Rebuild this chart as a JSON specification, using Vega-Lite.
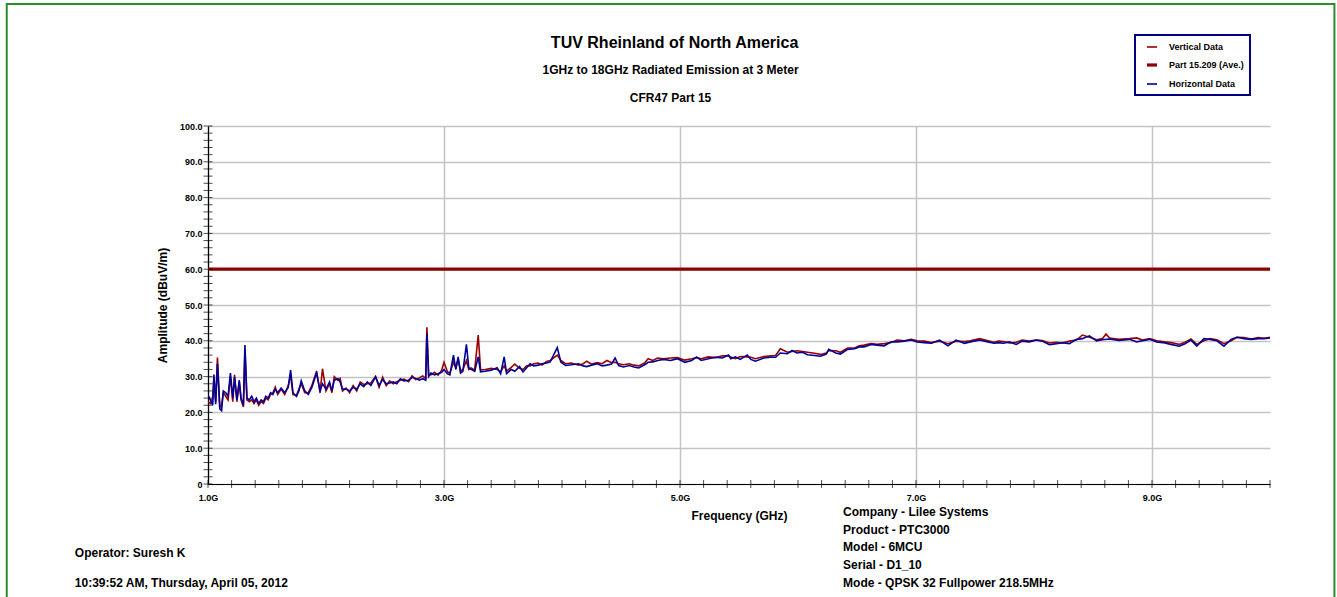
{
"$schema": "https://vega.github.io/schema/vega-lite/v6.json",
"width": 1062, "height": 358,
"autosize": {"type": "none"},
"padding": {"left": 208, "top": 126, "right": 67, "bottom": 113},
"background": "white",
"config": {"font": "Liberation Sans", "view": {"stroke": null},
 "axisY": {"tickCount": 12, "labelOverlap": false, "labelFlush": false},
 "axisX": {"labelOverlap": false, "labelFlush": false},
 "legend": {"strokeColor": "#000080", "strokeWidth": 2, "fillColor": "white", "padding": 6, "symbolOffset": 4, "symbolType": "stroke", "symbolSize": 100, "labelOffset": 10, "rowPadding": 6, "labelFont": "Liberation Sans", "labelFontSize": 9, "labelFontWeight": "bold", "labelColor": "black"}},
"datasets": {
"emission": [
{"series":"L","freq":1.0,"amp":60},{"series":"L","freq":10.0,"amp":60},
{"series":"V","freq":1.00,"amp":23.0},{"series":"V","freq":1.02,"amp":22.5},{"series":"V","freq":1.04,"amp":24.0},{"series":"V","freq":1.05,"amp":29.5},{"series":"V","freq":1.065,"amp":23.0},{"series":"V","freq":1.08,"amp":35.3},{"series":"V","freq":1.10,"amp":21.5},{"series":"V","freq":1.115,"amp":22.0},{"series":"V","freq":1.13,"amp":25.5},{"series":"V","freq":1.15,"amp":24.5},{"series":"V","freq":1.17,"amp":23.5},{"series":"V","freq":1.19,"amp":30.0},{"series":"V","freq":1.21,"amp":23.0},{"series":"V","freq":1.225,"amp":30.5},{"series":"V","freq":1.245,"amp":23.0},{"series":"V","freq":1.265,"amp":28.5},{"series":"V","freq":1.28,"amp":23.5},{"series":"V","freq":1.30,"amp":21.5},{"series":"V","freq":1.313,"amp":37.5},{"series":"V","freq":1.33,"amp":23.5},{"series":"V","freq":1.35,"amp":23.0},{"series":"V","freq":1.37,"amp":23.5},{"series":"V","freq":1.39,"amp":22.5},{"series":"V","freq":1.41,"amp":23.5},{"series":"V","freq":1.43,"amp":22.0},{"series":"V","freq":1.45,"amp":23.0},{"series":"V","freq":1.47,"amp":22.5},{"series":"V","freq":1.49,"amp":24.0},{"series":"V","freq":1.51,"amp":23.5},{"series":"V","freq":1.53,"amp":25.0},{"series":"V","freq":1.55,"amp":25.5},{"series":"V","freq":1.57,"amp":27.0},{"series":"V","freq":1.59,"amp":25.0},{"series":"V","freq":1.62,"amp":26.5},{"series":"V","freq":1.65,"amp":25.0},{"series":"V","freq":1.68,"amp":27.5},{"series":"V","freq":1.70,"amp":30.5},{"series":"V","freq":1.72,"amp":25.0},{"series":"V","freq":1.75,"amp":24.8},{"series":"V","freq":1.77,"amp":26.5},{"series":"V","freq":1.79,"amp":28.0},{"series":"V","freq":1.82,"amp":25.5},{"series":"V","freq":1.85,"amp":25.5},{"series":"V","freq":1.88,"amp":27.5},{"series":"V","freq":1.92,"amp":31.5},{"series":"V","freq":1.95,"amp":25.5},{"series":"V","freq":1.97,"amp":32.2},{"series":"V","freq":2.00,"amp":26.0},{"series":"V","freq":2.03,"amp":28.0},{"series":"V","freq":2.05,"amp":25.5},{"series":"V","freq":2.07,"amp":30.0},{"series":"V","freq":2.10,"amp":29.0},{"series":"V","freq":2.12,"amp":29.5},{"series":"V","freq":2.14,"amp":26.0},{"series":"V","freq":2.17,"amp":26.8},{"series":"V","freq":2.20,"amp":25.5},{"series":"V","freq":2.23,"amp":27.5},{"series":"V","freq":2.26,"amp":26.0},{"series":"V","freq":2.29,"amp":28.5},{"series":"V","freq":2.32,"amp":27.8},{"series":"V","freq":2.35,"amp":28.0},{"series":"V","freq":2.38,"amp":28.2},{"series":"V","freq":2.42,"amp":30.0},{"series":"V","freq":2.45,"amp":27.0},{"series":"V","freq":2.48,"amp":29.8},{"series":"V","freq":2.51,"amp":27.5},{"series":"V","freq":2.54,"amp":28.8},{"series":"V","freq":2.57,"amp":28.0},{"series":"V","freq":2.60,"amp":28.6},{"series":"V","freq":2.63,"amp":29.0},{"series":"V","freq":2.66,"amp":29.3},{"series":"V","freq":2.70,"amp":28.6},{"series":"V","freq":2.73,"amp":30.2},{"series":"V","freq":2.76,"amp":29.2},{"series":"V","freq":2.79,"amp":29.6},{"series":"V","freq":2.82,"amp":30.2},{"series":"V","freq":2.845,"amp":29.5},{"series":"V","freq":2.855,"amp":43.8},{"series":"V","freq":2.87,"amp":30.5},{"series":"V","freq":2.89,"amp":30.5},{"series":"V","freq":2.92,"amp":31.2},{"series":"V","freq":2.95,"amp":30.4},{"series":"V","freq":2.98,"amp":31.8},{"series":"V","freq":3.00,"amp":34.0},{"series":"V","freq":3.03,"amp":31.3},{"series":"V","freq":3.05,"amp":31.0},{"series":"V","freq":3.08,"amp":34.0},{"series":"V","freq":3.10,"amp":32.5},{"series":"V","freq":3.12,"amp":34.8},{"series":"V","freq":3.14,"amp":31.6},{"series":"V","freq":3.16,"amp":32.0},{"series":"V","freq":3.19,"amp":34.5},{"series":"V","freq":3.21,"amp":32.0},{"series":"V","freq":3.23,"amp":32.4},{"series":"V","freq":3.26,"amp":31.8},{"series":"V","freq":3.29,"amp":41.6},{"series":"V","freq":3.31,"amp":31.8},{"series":"V","freq":3.35,"amp":32.0},{"series":"V","freq":3.40,"amp":32.3},{"series":"V","freq":3.45,"amp":32.0},{"series":"V","freq":3.48,"amp":31.4},{"series":"V","freq":3.51,"amp":33.0},{"series":"V","freq":3.53,"amp":31.5},{"series":"V","freq":3.57,"amp":32.6},{"series":"V","freq":3.60,"amp":33.5},{"series":"V","freq":3.64,"amp":32.3},{"series":"V","freq":3.67,"amp":32.0},{"series":"V","freq":3.70,"amp":33.0},{"series":"V","freq":3.73,"amp":33.0},{"series":"V","freq":3.76,"amp":33.6},{"series":"V","freq":3.80,"amp":33.8},{"series":"V","freq":3.83,"amp":33.2},{"series":"V","freq":3.87,"amp":34.2},{"series":"V","freq":3.90,"amp":34.5},{"series":"V","freq":3.96,"amp":36.0},{"series":"V","freq":3.99,"amp":34.5},{"series":"V","freq":4.03,"amp":33.6},{"series":"V","freq":4.08,"amp":33.8},{"series":"V","freq":4.14,"amp":33.2},{"series":"V","freq":4.18,"amp":33.6},{"series":"V","freq":4.21,"amp":34.3},{"series":"V","freq":4.25,"amp":33.5},{"series":"V","freq":4.30,"amp":33.9},{"series":"V","freq":4.34,"amp":33.6},{"series":"V","freq":4.38,"amp":34.5},{"series":"V","freq":4.42,"amp":33.9},{"series":"V","freq":4.45,"amp":34.0},{"series":"V","freq":4.48,"amp":33.6},{"series":"V","freq":4.52,"amp":33.3},{"series":"V","freq":4.57,"amp":33.6},{"series":"V","freq":4.61,"amp":33.2},{"series":"V","freq":4.65,"amp":33.0},{"series":"V","freq":4.70,"amp":33.8},{"series":"V","freq":4.73,"amp":35.0},{"series":"V","freq":4.77,"amp":34.5},{"series":"V","freq":4.81,"amp":35.2},{"series":"V","freq":4.86,"amp":35.0},{"series":"V","freq":4.92,"amp":35.2},{"series":"V","freq":4.98,"amp":35.3},{"series":"V","freq":5.04,"amp":34.6},{"series":"V","freq":5.10,"amp":35.0},{"series":"V","freq":5.14,"amp":35.3},{"series":"V","freq":5.18,"amp":35.0},{"series":"V","freq":5.24,"amp":35.5},{"series":"V","freq":5.30,"amp":35.3},{"series":"V","freq":5.36,"amp":35.8},{"series":"V","freq":5.41,"amp":35.8},{"series":"V","freq":5.43,"amp":35.5},{"series":"V","freq":5.47,"amp":35.0},{"series":"V","freq":5.51,"amp":35.6},{"series":"V","freq":5.57,"amp":35.5},{"series":"V","freq":5.60,"amp":35.4},{"series":"V","freq":5.64,"amp":35.0},{"series":"V","freq":5.71,"amp":35.6},{"series":"V","freq":5.77,"amp":35.8},{"series":"V","freq":5.81,"amp":35.9},{"series":"V","freq":5.85,"amp":37.8},{"series":"V","freq":5.91,"amp":36.8},{"series":"V","freq":5.95,"amp":37.0},{"series":"V","freq":5.99,"amp":37.2},{"series":"V","freq":6.04,"amp":37.0},{"series":"V","freq":6.08,"amp":36.8},{"series":"V","freq":6.14,"amp":36.5},{"series":"V","freq":6.19,"amp":36.2},{"series":"V","freq":6.24,"amp":36.6},{"series":"V","freq":6.26,"amp":37.3},{"series":"V","freq":6.32,"amp":37.2},{"series":"V","freq":6.36,"amp":36.8},{"series":"V","freq":6.42,"amp":38.0},{"series":"V","freq":6.48,"amp":38.0},{"series":"V","freq":6.52,"amp":38.6},{"series":"V","freq":6.56,"amp":38.8},{"series":"V","freq":6.62,"amp":39.2},{"series":"V","freq":6.67,"amp":39.0},{"series":"V","freq":6.73,"amp":39.2},{"series":"V","freq":6.79,"amp":39.5},{"series":"V","freq":6.84,"amp":40.2},{"series":"V","freq":6.90,"amp":40.0},{"series":"V","freq":6.96,"amp":40.4},{"series":"V","freq":7.01,"amp":40.0},{"series":"V","freq":7.07,"amp":39.9},{"series":"V","freq":7.13,"amp":39.5},{"series":"V","freq":7.20,"amp":39.9},{"series":"V","freq":7.27,"amp":39.2},{"series":"V","freq":7.34,"amp":39.9},{"series":"V","freq":7.41,"amp":39.8},{"series":"V","freq":7.46,"amp":40.0},{"series":"V","freq":7.54,"amp":40.6},{"series":"V","freq":7.61,"amp":40.0},{"series":"V","freq":7.66,"amp":39.6},{"series":"V","freq":7.70,"amp":39.9},{"series":"V","freq":7.74,"amp":39.8},{"series":"V","freq":7.79,"amp":39.4},{"series":"V","freq":7.85,"amp":39.6},{"series":"V","freq":7.90,"amp":40.2},{"series":"V","freq":7.96,"amp":39.9},{"series":"V","freq":8.02,"amp":40.2},{"series":"V","freq":8.07,"amp":40.1},{"series":"V","freq":8.13,"amp":39.4},{"series":"V","freq":8.19,"amp":39.6},{"series":"V","freq":8.24,"amp":39.4},{"series":"V","freq":8.30,"amp":39.9},{"series":"V","freq":8.36,"amp":40.2},{"series":"V","freq":8.41,"amp":41.6},{"series":"V","freq":8.47,"amp":41.0},{"series":"V","freq":8.53,"amp":40.3},{"series":"V","freq":8.58,"amp":40.6},{"series":"V","freq":8.61,"amp":41.9},{"series":"V","freq":8.64,"amp":40.8},{"series":"V","freq":8.72,"amp":40.4},{"series":"V","freq":8.81,"amp":40.6},{"series":"V","freq":8.87,"amp":40.8},{"series":"V","freq":8.92,"amp":40.2},{"series":"V","freq":8.98,"amp":40.6},{"series":"V","freq":9.04,"amp":40.0},{"series":"V","freq":9.09,"amp":39.8},{"series":"V","freq":9.16,"amp":39.5},{"series":"V","freq":9.23,"amp":39.0},{"series":"V","freq":9.28,"amp":39.6},{"series":"V","freq":9.33,"amp":40.5},{"series":"V","freq":9.38,"amp":39.0},{"series":"V","freq":9.44,"amp":40.0},{"series":"V","freq":9.49,"amp":40.6},{"series":"V","freq":9.55,"amp":40.3},{"series":"V","freq":9.61,"amp":39.2},{"series":"V","freq":9.67,"amp":40.0},{"series":"V","freq":9.72,"amp":41.0},{"series":"V","freq":9.78,"amp":40.9},{"series":"V","freq":9.84,"amp":40.5},{"series":"V","freq":9.90,"amp":40.9},{"series":"V","freq":9.95,"amp":40.7},{"series":"V","freq":10.00,"amp":41.0},
{"series":"H","freq":1.00,"amp":24.8},{"series":"H","freq":1.02,"amp":23.5},{"series":"H","freq":1.04,"amp":22.0},{"series":"H","freq":1.05,"amp":30.6},{"series":"H","freq":1.065,"amp":22.3},{"series":"H","freq":1.08,"amp":33.6},{"series":"H","freq":1.10,"amp":21.0},{"series":"H","freq":1.115,"amp":20.5},{"series":"H","freq":1.13,"amp":26.0},{"series":"H","freq":1.15,"amp":25.5},{"series":"H","freq":1.17,"amp":24.5},{"series":"H","freq":1.19,"amp":31.0},{"series":"H","freq":1.21,"amp":24.0},{"series":"H","freq":1.225,"amp":29.8},{"series":"H","freq":1.245,"amp":23.5},{"series":"H","freq":1.265,"amp":29.0},{"series":"H","freq":1.28,"amp":24.0},{"series":"H","freq":1.30,"amp":22.0},{"series":"H","freq":1.313,"amp":38.8},{"series":"H","freq":1.33,"amp":24.0},{"series":"H","freq":1.35,"amp":23.5},{"series":"H","freq":1.37,"amp":24.5},{"series":"H","freq":1.39,"amp":23.0},{"series":"H","freq":1.41,"amp":24.0},{"series":"H","freq":1.43,"amp":22.5},{"series":"H","freq":1.45,"amp":23.5},{"series":"H","freq":1.47,"amp":23.0},{"series":"H","freq":1.49,"amp":24.5},{"series":"H","freq":1.51,"amp":24.0},{"series":"H","freq":1.53,"amp":25.5},{"series":"H","freq":1.55,"amp":25.0},{"series":"H","freq":1.57,"amp":26.5},{"series":"H","freq":1.59,"amp":25.5},{"series":"H","freq":1.62,"amp":26.8},{"series":"H","freq":1.65,"amp":25.5},{"series":"H","freq":1.68,"amp":27.0},{"series":"H","freq":1.70,"amp":31.8},{"series":"H","freq":1.72,"amp":25.5},{"series":"H","freq":1.75,"amp":24.5},{"series":"H","freq":1.77,"amp":26.0},{"series":"H","freq":1.79,"amp":28.8},{"series":"H","freq":1.82,"amp":26.0},{"series":"H","freq":1.85,"amp":25.0},{"series":"H","freq":1.88,"amp":27.0},{"series":"H","freq":1.92,"amp":31.0},{"series":"H","freq":1.95,"amp":26.0},{"series":"H","freq":1.97,"amp":28.0},{"series":"H","freq":2.00,"amp":26.5},{"series":"H","freq":2.03,"amp":28.5},{"series":"H","freq":2.05,"amp":26.0},{"series":"H","freq":2.07,"amp":29.0},{"series":"H","freq":2.10,"amp":29.4},{"series":"H","freq":2.12,"amp":28.5},{"series":"H","freq":2.14,"amp":26.5},{"series":"H","freq":2.17,"amp":26.5},{"series":"H","freq":2.20,"amp":26.0},{"series":"H","freq":2.23,"amp":27.0},{"series":"H","freq":2.26,"amp":26.5},{"series":"H","freq":2.29,"amp":28.0},{"series":"H","freq":2.32,"amp":27.2},{"series":"H","freq":2.35,"amp":28.5},{"series":"H","freq":2.38,"amp":27.5},{"series":"H","freq":2.42,"amp":29.9},{"series":"H","freq":2.45,"amp":27.5},{"series":"H","freq":2.48,"amp":29.2},{"series":"H","freq":2.51,"amp":28.0},{"series":"H","freq":2.54,"amp":28.2},{"series":"H","freq":2.57,"amp":28.5},{"series":"H","freq":2.60,"amp":28.0},{"series":"H","freq":2.63,"amp":29.4},{"series":"H","freq":2.66,"amp":28.8},{"series":"H","freq":2.70,"amp":29.0},{"series":"H","freq":2.73,"amp":29.8},{"series":"H","freq":2.76,"amp":29.5},{"series":"H","freq":2.79,"amp":29.0},{"series":"H","freq":2.82,"amp":29.4},{"series":"H","freq":2.845,"amp":29.0},{"series":"H","freq":2.855,"amp":42.0},{"series":"H","freq":2.87,"amp":30.0},{"series":"H","freq":2.89,"amp":31.0},{"series":"H","freq":2.92,"amp":30.5},{"series":"H","freq":2.95,"amp":30.8},{"series":"H","freq":2.98,"amp":31.2},{"series":"H","freq":3.00,"amp":32.0},{"series":"H","freq":3.03,"amp":30.8},{"series":"H","freq":3.05,"amp":30.5},{"series":"H","freq":3.08,"amp":36.0},{"series":"H","freq":3.10,"amp":32.0},{"series":"H","freq":3.12,"amp":35.5},{"series":"H","freq":3.14,"amp":31.0},{"series":"H","freq":3.16,"amp":31.5},{"series":"H","freq":3.19,"amp":39.0},{"series":"H","freq":3.21,"amp":32.5},{"series":"H","freq":3.23,"amp":32.0},{"series":"H","freq":3.26,"amp":31.5},{"series":"H","freq":3.29,"amp":35.5},{"series":"H","freq":3.31,"amp":31.3},{"series":"H","freq":3.35,"amp":31.5},{"series":"H","freq":3.40,"amp":31.8},{"series":"H","freq":3.45,"amp":32.5},{"series":"H","freq":3.48,"amp":30.8},{"series":"H","freq":3.51,"amp":35.5},{"series":"H","freq":3.53,"amp":30.8},{"series":"H","freq":3.57,"amp":32.0},{"series":"H","freq":3.60,"amp":31.5},{"series":"H","freq":3.64,"amp":32.8},{"series":"H","freq":3.67,"amp":31.3},{"series":"H","freq":3.70,"amp":32.5},{"series":"H","freq":3.73,"amp":33.6},{"series":"H","freq":3.76,"amp":33.0},{"series":"H","freq":3.80,"amp":33.2},{"series":"H","freq":3.83,"amp":33.6},{"series":"H","freq":3.87,"amp":33.8},{"series":"H","freq":3.90,"amp":34.1},{"series":"H","freq":3.96,"amp":38.1},{"series":"H","freq":3.99,"amp":34.1},{"series":"H","freq":4.03,"amp":33.1},{"series":"H","freq":4.08,"amp":33.3},{"series":"H","freq":4.14,"amp":33.6},{"series":"H","freq":4.18,"amp":33.0},{"series":"H","freq":4.21,"amp":32.8},{"series":"H","freq":4.25,"amp":33.2},{"series":"H","freq":4.30,"amp":33.6},{"series":"H","freq":4.34,"amp":33.0},{"series":"H","freq":4.38,"amp":33.2},{"series":"H","freq":4.42,"amp":33.5},{"series":"H","freq":4.45,"amp":35.2},{"series":"H","freq":4.48,"amp":33.1},{"series":"H","freq":4.52,"amp":32.7},{"series":"H","freq":4.57,"amp":33.1},{"series":"H","freq":4.61,"amp":32.7},{"series":"H","freq":4.65,"amp":32.4},{"series":"H","freq":4.70,"amp":33.3},{"series":"H","freq":4.73,"amp":34.0},{"series":"H","freq":4.77,"amp":34.1},{"series":"H","freq":4.81,"amp":34.5},{"series":"H","freq":4.86,"amp":34.8},{"series":"H","freq":4.92,"amp":34.5},{"series":"H","freq":4.98,"amp":35.0},{"series":"H","freq":5.04,"amp":34.0},{"series":"H","freq":5.10,"amp":34.5},{"series":"H","freq":5.14,"amp":35.5},{"series":"H","freq":5.18,"amp":34.5},{"series":"H","freq":5.24,"amp":35.0},{"series":"H","freq":5.30,"amp":35.4},{"series":"H","freq":5.36,"amp":35.2},{"series":"H","freq":5.41,"amp":36.0},{"series":"H","freq":5.43,"amp":35.0},{"series":"H","freq":5.47,"amp":35.5},{"series":"H","freq":5.51,"amp":34.8},{"series":"H","freq":5.57,"amp":36.0},{"series":"H","freq":5.60,"amp":34.8},{"series":"H","freq":5.64,"amp":34.3},{"series":"H","freq":5.71,"amp":35.2},{"series":"H","freq":5.77,"amp":35.4},{"series":"H","freq":5.81,"amp":35.4},{"series":"H","freq":5.85,"amp":36.6},{"series":"H","freq":5.91,"amp":36.4},{"series":"H","freq":5.95,"amp":37.3},{"series":"H","freq":5.99,"amp":36.6},{"series":"H","freq":6.04,"amp":36.8},{"series":"H","freq":6.08,"amp":36.1},{"series":"H","freq":6.14,"amp":35.9},{"series":"H","freq":6.19,"amp":35.7},{"series":"H","freq":6.24,"amp":36.3},{"series":"H","freq":6.26,"amp":37.6},{"series":"H","freq":6.32,"amp":36.6},{"series":"H","freq":6.36,"amp":36.3},{"series":"H","freq":6.42,"amp":37.6},{"series":"H","freq":6.48,"amp":37.8},{"series":"H","freq":6.52,"amp":38.3},{"series":"H","freq":6.56,"amp":38.3},{"series":"H","freq":6.62,"amp":39.0},{"series":"H","freq":6.67,"amp":38.8},{"series":"H","freq":6.73,"amp":38.6},{"series":"H","freq":6.79,"amp":39.7},{"series":"H","freq":6.84,"amp":39.7},{"series":"H","freq":6.90,"amp":39.9},{"series":"H","freq":6.96,"amp":40.2},{"series":"H","freq":7.01,"amp":39.7},{"series":"H","freq":7.07,"amp":39.5},{"series":"H","freq":7.13,"amp":39.3},{"series":"H","freq":7.20,"amp":40.2},{"series":"H","freq":7.27,"amp":38.6},{"series":"H","freq":7.34,"amp":40.2},{"series":"H","freq":7.41,"amp":39.3},{"series":"H","freq":7.46,"amp":39.7},{"series":"H","freq":7.54,"amp":40.2},{"series":"H","freq":7.61,"amp":39.7},{"series":"H","freq":7.66,"amp":39.3},{"series":"H","freq":7.70,"amp":39.5},{"series":"H","freq":7.74,"amp":39.3},{"series":"H","freq":7.79,"amp":39.7},{"series":"H","freq":7.85,"amp":39.0},{"series":"H","freq":7.90,"amp":39.9},{"series":"H","freq":7.96,"amp":39.7},{"series":"H","freq":8.02,"amp":40.2},{"series":"H","freq":8.07,"amp":39.9},{"series":"H","freq":8.13,"amp":38.9},{"series":"H","freq":8.19,"amp":39.2},{"series":"H","freq":8.24,"amp":39.5},{"series":"H","freq":8.30,"amp":39.2},{"series":"H","freq":8.36,"amp":40.4},{"series":"H","freq":8.41,"amp":40.6},{"series":"H","freq":8.47,"amp":41.4},{"series":"H","freq":8.53,"amp":40.0},{"series":"H","freq":8.58,"amp":40.3},{"series":"H","freq":8.64,"amp":40.5},{"series":"H","freq":8.72,"amp":40.1},{"series":"H","freq":8.81,"amp":40.4},{"series":"H","freq":8.87,"amp":39.7},{"series":"H","freq":8.92,"amp":40.0},{"series":"H","freq":8.98,"amp":40.4},{"series":"H","freq":9.04,"amp":39.7},{"series":"H","freq":9.09,"amp":39.5},{"series":"H","freq":9.16,"amp":39.0},{"series":"H","freq":9.23,"amp":38.5},{"series":"H","freq":9.28,"amp":39.2},{"series":"H","freq":9.33,"amp":40.2},{"series":"H","freq":9.38,"amp":38.5},{"series":"H","freq":9.44,"amp":40.6},{"series":"H","freq":9.49,"amp":40.4},{"series":"H","freq":9.55,"amp":40.0},{"series":"H","freq":9.61,"amp":38.5},{"series":"H","freq":9.67,"amp":40.4},{"series":"H","freq":9.72,"amp":41.0},{"series":"H","freq":9.78,"amp":40.6},{"series":"H","freq":9.84,"amp":40.4},{"series":"H","freq":9.90,"amp":40.6},{"series":"H","freq":9.95,"amp":40.6},{"series":"H","freq":10.00,"amp":40.8}
],
"yticks": [{"amp":0},{"amp":2},{"amp":4},{"amp":6},{"amp":8},{"amp":10},{"amp":12},{"amp":14},{"amp":16},{"amp":18},{"amp":20},{"amp":22},{"amp":24},{"amp":26},{"amp":28},{"amp":30},{"amp":32},{"amp":34},{"amp":36},{"amp":38},{"amp":40},{"amp":42},{"amp":44},{"amp":46},{"amp":48},{"amp":50},{"amp":52},{"amp":54},{"amp":56},{"amp":58},{"amp":60},{"amp":62},{"amp":64},{"amp":66},{"amp":68},{"amp":70},{"amp":72},{"amp":74},{"amp":76},{"amp":78},{"amp":80},{"amp":82},{"amp":84},{"amp":86},{"amp":88},{"amp":90},{"amp":92},{"amp":94},{"amp":96},{"amp":98},{"amp":100}],
"xticks": [{"freq":1.0},{"freq":1.2},{"freq":1.4},{"freq":1.6},{"freq":1.8},{"freq":2.0},{"freq":2.2},{"freq":2.4},{"freq":2.6},{"freq":2.8},{"freq":3.0},{"freq":3.2},{"freq":3.4},{"freq":3.6},{"freq":3.8},{"freq":4.0},{"freq":4.2},{"freq":4.4},{"freq":4.6},{"freq":4.8},{"freq":5.0},{"freq":5.2},{"freq":5.4},{"freq":5.6},{"freq":5.8},{"freq":6.0},{"freq":6.2},{"freq":6.4},{"freq":6.6},{"freq":6.8},{"freq":7.0},{"freq":7.2},{"freq":7.4},{"freq":7.6},{"freq":7.8},{"freq":8.0},{"freq":8.2},{"freq":8.4},{"freq":8.6},{"freq":8.8},{"freq":9.0},{"freq":9.2},{"freq":9.4},{"freq":9.6},{"freq":9.8},{"freq":10.0}],
"notes": [{"block":"title","text":"TUV Rheinland of North America"},{"block":"subtitle","text":"1GHz to 18GHz Radiated Emission at 3 Meter\nCFR47 Part 15"},{"block":"left","text":"Operator: Suresh K\n10:39:52 AM, Thursday, April 05, 2012"},{"block":"right","text":"Company - Lilee Systems\nProduct - PTC3000\nModel - 6MCU\nSerial - D1_10\nMode - QPSK 32 Fullpower 218.5MHz"}]
},
"layer": [
{
 "data": {"values": [{"frame": "border"}]},
 "mark": {"type": "rect", "fillOpacity": 0, "stroke": "#2a8c2a", "strokeWidth": 2},
 "encoding": {
  "x": {"datum": -0.7056, "type": "quantitative"},
  "x2": {"datum": 10.546},
  "y": {"datum": 134.1, "type": "quantitative"},
  "y2": {"datum": -33}
 }
},
{
 "data": {"name": "emission"},
 "encoding": {
  "x": {"field": "freq", "type": "quantitative", "title": "Frequency (GHz)", "scale": {"domain": [1, 10], "nice": false, "zero": false},
   "axis": {"values": [1, 3, 5, 7, 9], "tickCount": 30, "labelExpr": "format(datum.value, '.1f') + 'G'", "labelFlush": false, "labelOverlap": false, "grid": true, "gridColor": "#c4c4c4", "gridWidth": 1.5, "ticks": false, "domainColor": "black", "domainWidth": 1.2, "labelFont": "Liberation Sans", "labelFontSize": 9, "labelFontWeight": "bold", "labelColor": "black", "labelPadding": 9, "titleFont": "Liberation Sans", "titleFontSize": 12, "titleFontWeight": "bold", "titleColor": "black", "titlePadding": 8}},
  "y": {"field": "amp", "type": "quantitative", "title": "Amplitude (dBuV/m)", "scale": {"domain": [0, 100], "nice": false},
   "axis": {"values": [0, 10, 20, 30, 40, 50, 60, 70, 80, 90, 100], "tickCount": 12, "labelExpr": "datum.value == 0 ? '0' : format(datum.value, '.1f')", "labelOverlap": false, "labelFlush": false, "grid": true, "gridColor": "#c4c4c4", "gridWidth": 1.5, "ticks": false, "domainColor": "black", "domainWidth": 1.2, "labelFont": "Liberation Sans", "labelFontSize": 9, "labelFontWeight": "bold", "labelColor": "black", "labelPadding": 6, "titleFont": "Liberation Sans", "titleFontSize": 12, "titleFontWeight": "bold", "titleColor": "black", "titlePadding": 10}},
  "color": {"field": "series", "type": "nominal", "scale": {"domain": ["V", "L", "H"], "range": ["#9a0000", "#8b0000", "#000099"]},
   "legend": {"orient": "none", "legendX": 927, "legendY": -91, "title": null, "labelExpr": "datum.label == 'V' ? 'Vertical Data' : datum.label == 'L' ? 'Part 15.209 (Ave.)' : 'Horizontal Data'"}},
  "strokeWidth": {"field": "series", "type": "nominal", "scale": {"type": "ordinal", "domain": ["V", "L", "H"], "range": [1.6, 3.2, 1.6]},
   "legend": {"orient": "none", "legendX": 927, "legendY": -91, "title": null, "labelExpr": "datum.label == 'V' ? 'Vertical Data' : datum.label == 'L' ? 'Part 15.209 (Ave.)' : 'Horizontal Data'"}}
 },
 "layer": [
  {"transform": [{"filter": "datum.series === 'L'"}], "mark": {"type": "line", "clip": true}},
  {"transform": [{"filter": "datum.series === 'V'"}], "mark": {"type": "line", "clip": true}},
  {"transform": [{"filter": "datum.series === 'H'"}], "mark": {"type": "line", "clip": true}}
 ]
},
{
 "data": {"name": "yticks"},
 "mark": {"type": "tick", "orient": "horizontal", "size": 9, "thickness": 1, "color": "black"},
 "encoding": {
  "y": {"field": "amp", "type": "quantitative", "title": "Amplitude (dBuV/m)"},
  "x": {"datum": 1, "type": "quantitative"}
 }
},
{
 "data": {"name": "xticks"},
 "mark": {"type": "tick", "orient": "vertical", "size": 8, "thickness": 1, "color": "black"},
 "encoding": {
  "x": {"field": "freq", "type": "quantitative", "title": "Frequency (GHz)"},
  "y": {"datum": 0, "type": "quantitative"}
 }
},
{
 "data": {"name": "notes"},
 "transform": [{"filter": "datum.block === 'title'"}],
 "mark": {"type": "text", "align": "center", "baseline": "alphabetic", "font": "Liberation Sans", "fontSize": 16, "fontWeight": "bold", "color": "black"},
 "encoding": {
  "x": {"datum": 4.954, "type": "quantitative"},
  "y": {"datum": 121.7, "type": "quantitative"},
  "text": {"field": "text"}
 }
},
{
 "data": {"name": "notes"},
 "transform": [{"filter": "datum.block === 'subtitle'"}],
 "mark": {"type": "text", "align": "center", "baseline": "alphabetic", "lineBreak": "\n", "lineHeight": 27.7, "font": "Liberation Sans", "fontSize": 12, "fontWeight": "bold", "color": "black"},
 "encoding": {
  "x": {"datum": 4.92, "type": "quantitative"},
  "y": {"datum": 114.44, "type": "quantitative"},
  "text": {"field": "text"}
 }
},
{
 "data": {"name": "notes"},
 "transform": [{"filter": "datum.block === 'left'"}],
 "mark": {"type": "text", "align": "left", "baseline": "alphabetic", "lineBreak": "\n", "lineHeight": 30, "font": "Liberation Sans", "fontSize": 12, "fontWeight": "bold", "color": "black"},
 "encoding": {
  "x": {"datum": -0.1286, "type": "quantitative"},
  "y": {"datum": -20.47, "type": "quantitative"},
  "text": {"field": "text"}
 }
},
{
 "data": {"name": "notes"},
 "transform": [{"filter": "datum.block === 'right'"}],
 "mark": {"type": "text", "align": "left", "baseline": "alphabetic", "lineBreak": "\n", "lineHeight": 17.7, "font": "Liberation Sans", "fontSize": 12, "fontWeight": "bold", "color": "black"},
 "encoding": {
  "x": {"datum": 6.382, "type": "quantitative"},
  "y": {"datum": -8.94, "type": "quantitative"},
  "text": {"field": "text"}
 }
}
]
}
